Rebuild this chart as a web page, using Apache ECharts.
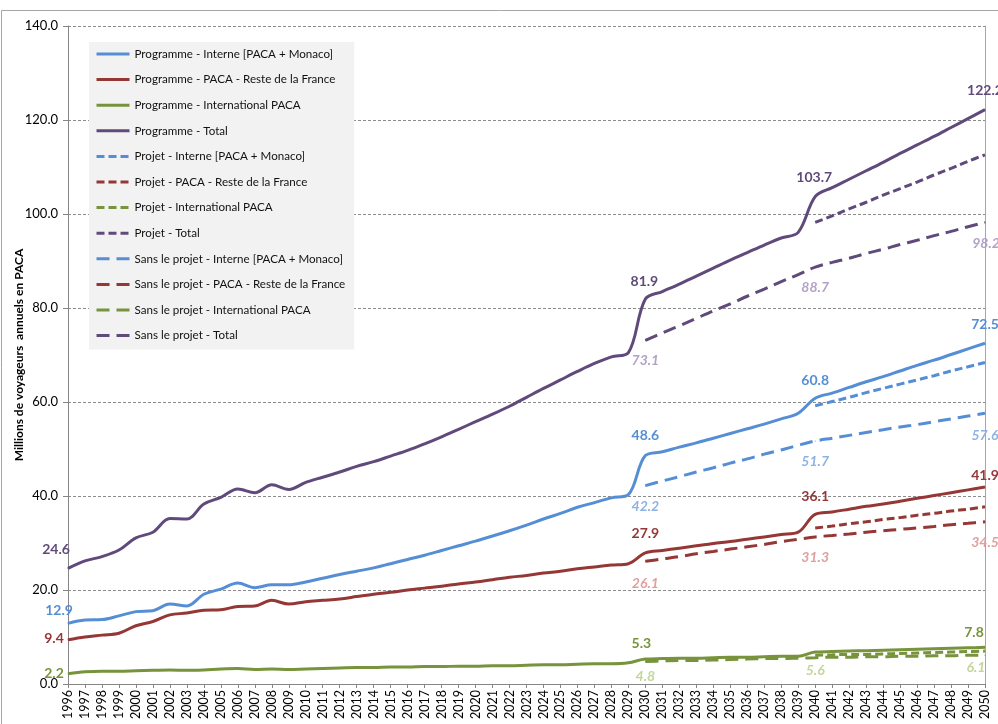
<!DOCTYPE html>
<html>
<head>
<meta charset="utf-8">
<script src="https://cdn.jsdelivr.net/npm/echarts@6/dist/echarts.min.js"></script>
<style>
html,body{margin:0;padding:0;background:#fff;}
#chart{width:998px;height:724px;}
</style>
</head>
<body>
<div id="chart"></div>
<script>
// ---- categories (years) ----
const years = ['1996','1997','1998','1999','2000','2001','2002','2003','2004','2005',
  '2006','2007','2008','2009','2010','2011','2012','2013','2014','2015',
  '2016','2017','2018','2019','2020','2021','2022','2023','2024','2025',
  '2026','2027','2028','2029','2030','2031','2032','2033','2034','2035',
  '2036','2037','2038','2039','2040','2041','2042','2043','2044','2045',
  '2046','2047','2048','2049','2050'];

// ---- y-axis ticks ----
const yMin = 0, yMax = 140, yStep = 20;

// ---- Programme (1996-2050) ----
const progInterne = [12.9,13.6,13.7,14.5,15.4,15.6,17.0,16.6,19.1,20.2,
  21.5,20.5,21.1,21.1,21.7,22.5,23.3,24.0,24.7,25.6,
  26.5,27.4,28.4,29.4,30.4,31.5,32.6,33.8,35.1,36.3,
  37.6,38.6,39.6,40.3,48.6,49.4,50.4,51.3,52.3,53.3,
  54.3,55.3,56.4,57.6,60.8,61.9,63.1,64.3,65.4,66.6,
  67.8,68.9,70.1,71.3,72.5];
const progPaca = [9.4,10.0,10.4,10.8,12.4,13.3,14.7,15.1,15.7,15.8,
  16.5,16.6,17.8,17.0,17.5,17.8,18.1,18.6,19.1,19.5,
  20.0,20.4,20.8,21.3,21.7,22.2,22.7,23.1,23.6,24.0,
  24.5,24.9,25.3,25.6,27.9,28.4,28.9,29.4,29.9,30.3,
  30.8,31.3,31.8,32.3,36.1,36.6,37.2,37.8,38.3,38.9,
  39.5,40.1,40.7,41.3,41.9];
const progIntl = [2.2,2.6,2.7,2.7,2.8,2.9,3.0,2.9,3.0,3.2,
  3.3,3.1,3.2,3.1,3.2,3.3,3.4,3.5,3.5,3.6,
  3.6,3.7,3.7,3.8,3.8,3.9,3.9,4.0,4.1,4.1,
  4.2,4.3,4.3,4.5,5.3,5.4,5.5,5.5,5.6,5.7,
  5.7,5.8,5.9,5.9,6.8,6.9,7.0,7.1,7.2,7.3,
  7.4,7.5,7.6,7.7,7.8];
const progTotal = [24.6,26.2,27.1,28.5,31.1,32.3,35.2,35.1,38.3,39.7,
  41.5,40.7,42.4,41.4,42.9,44.0,45.1,46.3,47.3,48.5,
  49.7,51.1,52.6,54.2,55.8,57.4,59.1,61.0,62.9,64.7,
  66.5,68.2,69.6,70.5,81.9,83.5,85.1,86.8,88.5,90.2,
  91.8,93.4,94.9,96.1,103.7,105.6,107.4,109.2,111.0,112.9,
  114.7,116.5,118.4,120.3,122.2];

// ---- Projet (2040-2050) ----
const projetStart = 2040;
const projInterne = [59.2,60.1,61.0,62.0,62.9,63.8,64.7,65.6,66.6,67.5,68.4];
const projPaca = [33.2,33.6,34.1,34.5,35.0,35.4,35.9,36.3,36.8,37.2,37.7];
const projIntl = [6.1,6.2,6.3,6.3,6.4,6.5,6.6,6.7,6.8,6.9,7.0];
const projTotal = [98.2,99.6,101.1,102.5,104.0,105.4,106.8,108.3,109.7,111.2,112.6];

// ---- Sans le projet (2030-2050) ----
const sansStart = 2030;
const sansInterne = [42.2,43.2,44.1,45.1,46.0,47.0,47.9,48.9,49.8,50.8,51.7,52.3,52.9,53.5,54.1,54.7,55.2,55.8,56.4,57.0,57.6];
const sansPaca = [26.1,26.6,27.1,27.7,28.2,28.7,29.2,29.7,30.3,30.8,31.3,31.6,31.9,32.3,32.6,32.9,33.2,33.5,33.9,34.2,34.5];
const sansIntl = [4.8,4.9,5.0,5.0,5.1,5.2,5.3,5.4,5.4,5.5,5.6,5.7,5.7,5.8,5.8,5.9,5.9,6.0,6.0,6.1,6.1];
const sansTotal = [73.1,74.7,76.2,77.8,79.4,80.9,82.5,84.0,85.6,87.1,88.7,89.7,90.6,91.6,92.5,93.5,94.4,95.4,96.3,97.3,98.2];

// ---- styling ----
const FONT = 'Lato, "Liberation Sans", sans-serif';
const C = {
  blue: '#558ED5', red: '#953735', green: '#77933C', purple: '#604A7B',
  lblue: '#8DB3E2', lred: '#E0A09E', lgreen: '#C3D69B', lpurple: '#B3A2C7'
};
const DASH_PROJ = [8, 4];
const DASH_SANS = [13, 7];

// which points carry a value label, and where the label sits relative to the point
const labelSpec = {
  'Programme - Interne [PACA + Monaco]': {'1996':[-9,-13],'2030':[0,-20],'2040':[0,-18],'2050':[0,-19]},
  'Programme - PACA - Reste de la France': {'1996':[-14,-1],'2030':[0,-19],'2040':[0,-18],'2050':[0,-12]},
  'Programme - International PACA': {'1996':[-14,0],'2030':[-4,-16],'2050':[-11,-15]},
  'Programme - Total': {'1996':[-12,-19],'2030':[-1,-18],'2040':[-1,-19],'2050':[0,-19]},
  'Sans le projet - Interne [PACA + Monaco]': {'2030':[0,21],'2040':[0,20],'2050':[0,22]},
  'Sans le projet - PACA - Reste de la France': {'2030':[0,22],'2040':[0,21],'2050':[0,21]},
  'Sans le projet - International PACA': {'2030':[0,15],'2040':[0,13],'2050':[-9,12]},
  'Sans le projet - Total': {'2030':[0,20],'2040':[0,20],'2050':[1,21]}
};

function buildData(name, values, startYear, labelColor, italic) {
  const spec = labelSpec[name] || {};
  const startIdx = years.indexOf(String(startYear));
  return values.map((v, i) => {
    const yr = years[startIdx + i];
    const item = { value: [yr, v] };
    if (spec[yr]) {
      item.symbol = 'circle';
      item.symbolSize = 1;
      item.label = {
        show: true, position: 'inside', offset: spec[yr],
        formatter: (p) => p.value[1].toFixed(1),
        color: labelColor, fontFamily: FONT, fontSize: 14,
        fontWeight: 'bold', fontStyle: italic ? 'italic' : 'normal'
      };
    }
    return item;
  });
}

function mkSeries(name, values, startYear, color, dash, labelColor, italic) {
  return {
    name: name, type: 'line',
    data: buildData(name, values, startYear, labelColor, italic),
    symbol: 'none', showSymbol: true, smooth: 0.35,
    lineStyle: { color: color, width: 3, type: dash },
    itemStyle: { color: color },
    emphasis: { disabled: true },
    z: 2
  };
}

const series = [
  mkSeries('Programme - Interne [PACA + Monaco]', progInterne, 1996, C.blue, 'solid', C.blue, false),
  mkSeries('Programme - PACA - Reste de la France', progPaca, 1996, C.red, 'solid', C.red, false),
  mkSeries('Programme - International PACA', progIntl, 1996, C.green, 'solid', C.green, false),
  mkSeries('Programme - Total', progTotal, 1996, C.purple, 'solid', C.purple, false),
  mkSeries('Projet - Interne [PACA + Monaco]', projInterne, projetStart, C.blue, DASH_PROJ),
  mkSeries('Projet - PACA - Reste de la France', projPaca, projetStart, C.red, DASH_PROJ),
  mkSeries('Projet - International PACA', projIntl, projetStart, C.green, DASH_PROJ),
  mkSeries('Projet - Total', projTotal, projetStart, C.purple, DASH_PROJ),
  mkSeries('Sans le projet - Interne [PACA + Monaco]', sansInterne, sansStart, C.blue, DASH_SANS, C.lblue, true),
  mkSeries('Sans le projet - PACA - Reste de la France', sansPaca, sansStart, C.red, DASH_SANS, C.lred, true),
  mkSeries('Sans le projet - International PACA', sansIntl, sansStart, C.green, DASH_SANS, C.lgreen, true),
  mkSeries('Sans le projet - Total', sansTotal, sansStart, C.purple, DASH_SANS, C.lpurple, true)
];

const chart = echarts.init(document.getElementById('chart'), null, { renderer: 'canvas' });
chart.setOption({
  animation: false,
  backgroundColor: '#ffffff',
  textStyle: { fontFamily: FONT },
  graphic: [{
    type: 'rect', silent: true, z: -10,
    shape: { x: 1.5, y: 10.5, width: 1010, height: 730 },
    style: { fill: 'none', stroke: '#A6A6A6', lineWidth: 1 }
  }],
  grid: { left: 68, right: 13, top: 26, bottom: 40, containLabel: false, outerBoundsMode: 'none' },
  legend: {
    orient: 'vertical', left: 89, top: 42,
    backgroundColor: '#F2F2F2', borderWidth: 0,
    padding: [5, 9, 7, 6],
    itemWidth: 33, itemHeight: 14, itemGap: 11.6,
    itemStyle: { opacity: 0 },
    lineStyle: { width: 3 },
    textStyle: { fontFamily: FONT, fontSize: 11.6, color: '#111', lineHeight: 14 },
    data: series.map(s => s.name),
    selectedMode: false
  },
  xAxis: {
    type: 'category', data: years, boundaryGap: false,
    axisLine: { show: true, lineStyle: { color: '#868686', width: 1 } },
    axisTick: { show: true, length: 4, interval: 0, lineStyle: { color: '#868686' } },
    axisLabel: { interval: 0, rotate: 90, margin: 6, fontFamily: FONT, fontSize: 12.5, color: '#000' },
    splitLine: { show: false }
  },
  yAxis: [{
    type: 'value', min: yMin, max: yMax, interval: yStep,
    name: 'Millions de voyageurs  annuels en PACA',
    nameLocation: 'middle', nameGap: 43, nameRotate: 90, nameMoveOverlap: false,
    nameTextStyle: { fontFamily: FONT, fontSize: 12, fontWeight: 'bold', color: '#000' },
    axisLine: { show: true, lineStyle: { color: '#868686', width: 1 } },
    axisTick: { show: true, length: 5, lineStyle: { color: '#868686' } },
    axisLabel: { margin: 10, fontFamily: FONT, fontSize: 13, color: '#000',
      formatter: (v) => v.toFixed(1) },
    splitLine: { show: true, lineStyle: { color: '#8C8C8C', width: 1, type: [3, 2] } }
  }, {
    type: 'value', min: yMin, max: yMax, interval: yStep, position: 'right',
    axisLine: { show: true, lineStyle: { color: '#A6A6A6', width: 1 } },
    axisTick: { show: false }, axisLabel: { show: false }, splitLine: { show: false }
  }],
  series: series
});
</script>
</body>
</html>
